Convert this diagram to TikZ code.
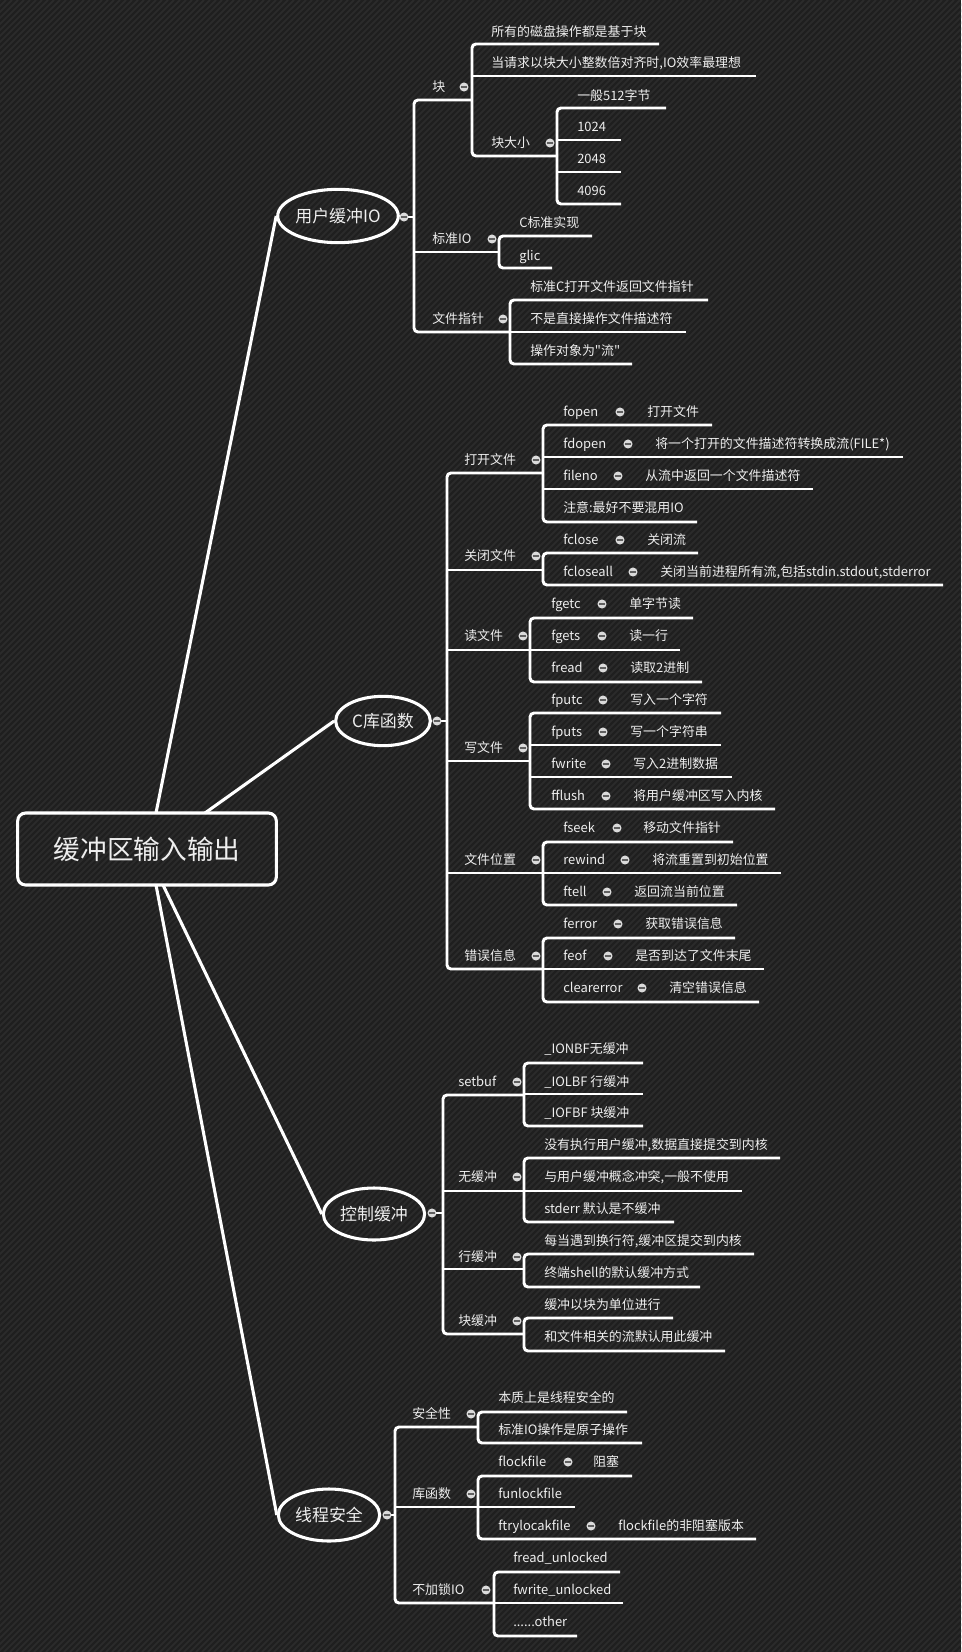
\documentclass[tikz,border=0pt]{standalone}
\usepackage{fontspec}
\setmainfont{Noto Sans CJK SC}
\font\mmq="Noto Sans CJK SC" at 9.7pt
\usetikzlibrary{shapes.geometric}
\definecolor{bgc}{HTML}{1F1F1F}
\definecolor{stc}{HTML}{2B2B2B}
\definecolor{txc}{HTML}{EEEEEE}
\definecolor{dotc}{HTML}{DADADA}
\definecolor{minc}{HTML}{606060}
\tikzset{
 ln/.style={white, line width=2.2pt, rounded corners=3pt},
 ln2/.style={white, line width=2.3pt},
 txt/.style={text=txc, font=\fontsize{9.7}{11}\selectfont, inner sep=0pt, anchor=base west, yshift=-3.5pt},
 dot/.style={circle, fill=dotc, minimum size=6.8pt, inner sep=0pt,
   path picture={\draw[minc, line width=0.8pt] ([xshift=-2pt]path picture bounding box.center) -- ([xshift=2pt]path picture bounding box.center);}},
 topic/.style={ellipse, draw=white, line width=2.3pt, text=txc, font=\fontsize{12.7}{14}\selectfont, inner sep=0pt},
 rootbox/.style={rectangle, rounded corners=6pt, draw=white, line width=2.3pt, text=txc, font=\fontsize{20}{24}\selectfont, minimum width=194pt, minimum height=54pt, inner sep=0pt},
}
\newcommand\mmT[4]{\node[txt] (#1) at (#2,#3) {#4};}
\newcommand\mmD[3]{\node[dot] (#1) at (#2,#3) {};}
\begin{document}
\begin{tikzpicture}[x=0.75pt,y=-0.75pt]
\useasboundingbox (0,0) rectangle (961,1652);
\begin{scope}
\clip (0,0) rectangle (961,1652);
\fill[bgc] (0,0) rectangle (961,1652);
\foreach \i in {0,6,...,2616} \draw[stc, line width=1.4pt] (\i,0) -- ({\i-1652},1652);
\end{scope}

% ---------- root and main topics
\node[rootbox] (root) at (147,849) {缓冲区输入输出};
\node[topic, minimum width=89pt, minimum height=40pt] (E1) at (338,216) {用户缓冲IO};
\node[topic, minimum width=71pt, minimum height=37pt] (E2) at (383,721) {C库函数};
\node[topic, minimum width=76pt, minimum height=39pt] (E3) at (374,1214) {控制缓冲};
\node[topic, minimum width=76pt, minimum height=39pt] (E4) at (329,1515) {线程安全};
\coordinate (r1) at (156,813);
\coordinate (r2) at (205,813);
\coordinate (r3) at (163,885);
\coordinate (r4) at (156,885);
\draw[ln2] (r1) -- (E1.west);
\draw[ln2] (r2) -- (E2.west);
\draw[ln2] (r3) -- (E3.west);
\draw[ln2] (r4) -- (E4.west);

% ---------- 用户缓冲IO
\draw[ln] (404,217) -- (414,217);
\draw[ln] (472,100) -- (414,100) -- (414,332) -- (510,332);
\draw[ln] (414,252) -- (499,252);
\draw[ln] (659,44) -- (472,44) -- (472,156) -- (557,156);
\draw[ln] (472,76) -- (756,76);
\draw[ln] (666,108) -- (557,108) -- (557,204) -- (621,204);
\draw[ln] (557,140) -- (621,140);
\draw[ln] (557,172) -- (621,172);
\draw[ln] (592,236) -- (499,236) -- (499,268) -- (552,268);
\draw[ln] (708,300) -- (510,300) -- (510,364) -- (632,364);
\draw[ln] (510,332) -- (686,332);

\mmD{d1}{404}{217}
\mmT{a1}{432}{87}{块}\mmD{da1}{464}{87}
\mmT{a2}{432}{239}{标准IO}\mmD{da2}{492}{239}
\mmT{a3}{432}{319}{文件指针}\mmD{da3}{503}{319}
\mmT{a11}{491}{32}{所有的磁盘操作都是基于块}
\mmT{a12}{491}{63}{当请求以块大小整数倍对齐时,IO效率最理想}
\mmT{a13}{491}{143}{块大小}\mmD{da13}{550}{143}
\mmT{a131}{577}{96}{一般512字节}
\mmT{a132}{577}{127}{1024}
\mmT{a133}{577}{159}{2048}
\mmT{a134}{577}{191}{4096}
\mmT{a21}{519}{223}{C标准实现}
\mmT{a22}{519}{256}{glic}
\mmT{a31}{530}{287}{标准C打开文件返回文件指针}
\mmT{a32}{530}{319}{不是直接操作文件描述符}
\mmT{a33}{530}{351}{操作对象为{\mmq"}流{\mmq"}}

% ---------- C库函数
\draw[ln] (437,721) -- (447,721);
\draw[ln] (543,473) -- (447,473) -- (447,969) -- (543,969);
\draw[ln] (447,570) -- (543,570);
\draw[ln] (447,650) -- (530,650);
\draw[ln] (447,761) -- (530,761);
\draw[ln] (447,873) -- (543,873);
\draw[ln] (712,425) -- (543,425) -- (543,522) -- (697,522);
\draw[ln] (543,457) -- (903,457);
\draw[ln] (543,489) -- (813,489);
\draw[ln] (698,553) -- (543,553) -- (543,585) -- (943,585);
\draw[ln] (693,618) -- (530,618) -- (530,682) -- (702,682);
\draw[ln] (530,650) -- (680,650);
\draw[ln] (721,713) -- (530,713) -- (530,809) -- (775,809);
\draw[ln] (530,745) -- (721,745);
\draw[ln] (530,777) -- (732,777);
\draw[ln] (733,842) -- (543,842) -- (543,905) -- (737,905);
\draw[ln] (543,873) -- (781,873);
\draw[ln] (735,938) -- (543,938) -- (543,1002) -- (759,1002);
\draw[ln] (543,969) -- (764,969);

\mmD{d2}{437}{721}
\mmT{b1}{464}{460}{打开文件}\mmD{db1}{536}{460}
\mmT{b2}{464}{556}{关闭文件}\mmD{db2}{536}{556}
\mmT{b3}{464}{636}{读文件}\mmD{db3}{523}{636}
\mmT{b4}{464}{748}{写文件}\mmD{db4}{523}{748}
\mmT{b5}{464}{860}{文件位置}\mmD{db5}{536}{860}
\mmT{b6}{464}{956}{错误信息}\mmD{db6}{536}{956}

\mmT{b11}{563}{412}{fopen}\mmD{db11}{620}{412}\mmT{b11x}{647}{412}{打开文件}
\mmT{b12}{563}{444}{fdopen}\mmD{db12}{628}{444}\mmT{b12x}{655}{444}{将一个打开的文件描述符转换成流(FILE*)}
\mmT{b13}{563}{476}{fileno}\mmD{db13}{618}{476}\mmT{b13x}{645}{476}{从流中返回一个文件描述符}
\mmT{b14}{563}{508}{注意:最好不要混用IO}
\mmT{b21}{563}{540}{fclose}\mmD{db21}{620}{540}\mmT{b21x}{647}{540}{关闭流}
\mmT{b22}{563}{572}{fcloseall}\mmD{db22}{633}{572}\mmT{b22x}{660}{572}{关闭当前进程所有流,包括stdin.stdout,stderror}
\mmT{b31}{551}{604}{fgetc}\mmD{db31}{602}{604}\mmT{b31x}{629}{604}{单字节读}
\mmT{b32}{551}{636}{fgets}\mmD{db32}{602}{636}\mmT{b32x}{629}{636}{读一行}
\mmT{b33}{551}{668}{fread}\mmD{db33}{603}{668}\mmT{b33x}{630}{668}{读取2进制}
\mmT{b41}{551}{700}{fputc}\mmD{db41}{603}{700}\mmT{b41x}{630}{700}{写入一个字符}
\mmT{b42}{551}{732}{fputs}\mmD{db42}{603}{732}\mmT{b42x}{630}{732}{写一个字符串}
\mmT{b43}{551}{764}{fwrite}\mmD{db43}{606}{764}\mmT{b43x}{633}{764}{写入2进制数据}
\mmT{b44}{551}{796}{fflush}\mmD{db44}{606}{796}\mmT{b44x}{633}{796}{将用户缓冲区写入内核}
\mmT{b51}{563}{828}{fseek}\mmD{db51}{617}{828}\mmT{b51x}{643}{828}{移动文件指针}
\mmT{b52}{563}{860}{rewind}\mmD{db52}{625}{860}\mmT{b52x}{652}{860}{将流重置到初始位置}
\mmT{b53}{563}{892}{ftell}\mmD{db53}{607}{892}\mmT{b53x}{634}{892}{返回流当前位置}
\mmT{b61}{563}{924}{ferror}\mmD{db61}{618}{924}\mmT{b61x}{645}{924}{获取错误信息}
\mmT{b62}{563}{956}{feof}\mmD{db62}{608}{956}\mmT{b62x}{635}{956}{是否到达了文件末尾}
\mmT{b63}{563}{988}{clearerror}\mmD{db63}{642}{988}\mmT{b63x}{669}{988}{清空错误信息}

% ---------- 控制缓冲
\draw[ln] (432,1213) -- (443,1213);
\draw[ln] (524,1095) -- (443,1095) -- (443,1334) -- (524,1334);
\draw[ln] (443,1191) -- (524,1191);
\draw[ln] (443,1269) -- (524,1269);
\draw[ln] (643,1063) -- (524,1063) -- (524,1126) -- (643,1126);
\draw[ln] (524,1094) -- (643,1094);
\draw[ln] (780,1158) -- (524,1158) -- (524,1222) -- (674,1222);
\draw[ln] (524,1191) -- (742,1191);
\draw[ln] (754,1254) -- (524,1254) -- (524,1287) -- (700,1287);
\draw[ln] (673,1318) -- (524,1318) -- (524,1351) -- (725,1351);

\mmD{d3}{432}{1213}
\mmT{c1}{458}{1082}{setbuf}\mmD{dc1}{517}{1082}
\mmT{c2}{458}{1177}{无缓冲}\mmD{dc2}{517}{1177}
\mmT{c3}{458}{1257}{行缓冲}\mmD{dc3}{517}{1257}
\mmT{c4}{458}{1321}{块缓冲}\mmD{dc4}{517}{1321}
\mmT{c11}{544}{1049}{\_IONBF无缓冲}
\mmT{c12}{544}{1082}{\_IOLBF 行缓冲}
\mmT{c13}{544}{1113}{\_IOFBF 块缓冲}
\mmT{c21}{544}{1145}{没有执行用户缓冲,数据直接提交到内核}
\mmT{c22}{544}{1177}{与用户缓冲概念冲突,一般不使用}
\mmT{c23}{544}{1209}{stderr 默认是不缓冲}
\mmT{c31}{544}{1241}{每当遇到换行符,缓冲区提交到内核}
\mmT{c32}{544}{1273}{终端shell的默认缓冲方式}
\mmT{c41}{544}{1305}{缓冲以块为单位进行}
\mmT{c42}{544}{1337}{和文件相关的流默认用此缓冲}

% ---------- 线程安全
\draw[ln] (387,1515) -- (395,1515);
\draw[ln] (478,1427) -- (395,1427) -- (395,1603) -- (494,1603);
\draw[ln] (395,1507) -- (478,1507);
\draw[ln] (627,1412) -- (478,1412) -- (478,1443) -- (642,1443);
\draw[ln] (632,1476) -- (478,1476) -- (478,1539) -- (756,1539);
\draw[ln] (478,1507) -- (575,1507);
\draw[ln] (620,1572) -- (494,1572) -- (494,1636) -- (577,1636);
\draw[ln] (494,1603) -- (623,1603);

\mmD{d4}{387}{1515}
\mmT{e1}{412}{1414}{安全性}\mmD{de1}{471}{1414}
\mmT{e2}{412}{1494}{库函数}\mmD{de2}{471}{1494}
\mmT{e3}{412}{1590}{不加锁IO}\mmD{de3}{486}{1590}
\mmT{e11}{498}{1398}{本质上是线程安全的}
\mmT{e12}{498}{1430}{标准IO操作是原子操作}
\mmT{e21}{498}{1462}{flockfile}\mmD{de21}{568}{1462}\mmT{e21x}{593}{1462}{阻塞}
\mmT{e22}{498}{1494}{funlockfile}
\mmT{e23}{498}{1526}{ftrylocakfile}\mmD{de23}{591}{1526}\mmT{e23x}{618}{1526}{flockfile的非阻塞版本}
\mmT{e31}{513}{1558}{fread\_unlocked}
\mmT{e32}{513}{1590}{fwrite\_unlocked}
\mmT{e33}{513}{1622}{......other}
\end{tikzpicture}
\end{document}
